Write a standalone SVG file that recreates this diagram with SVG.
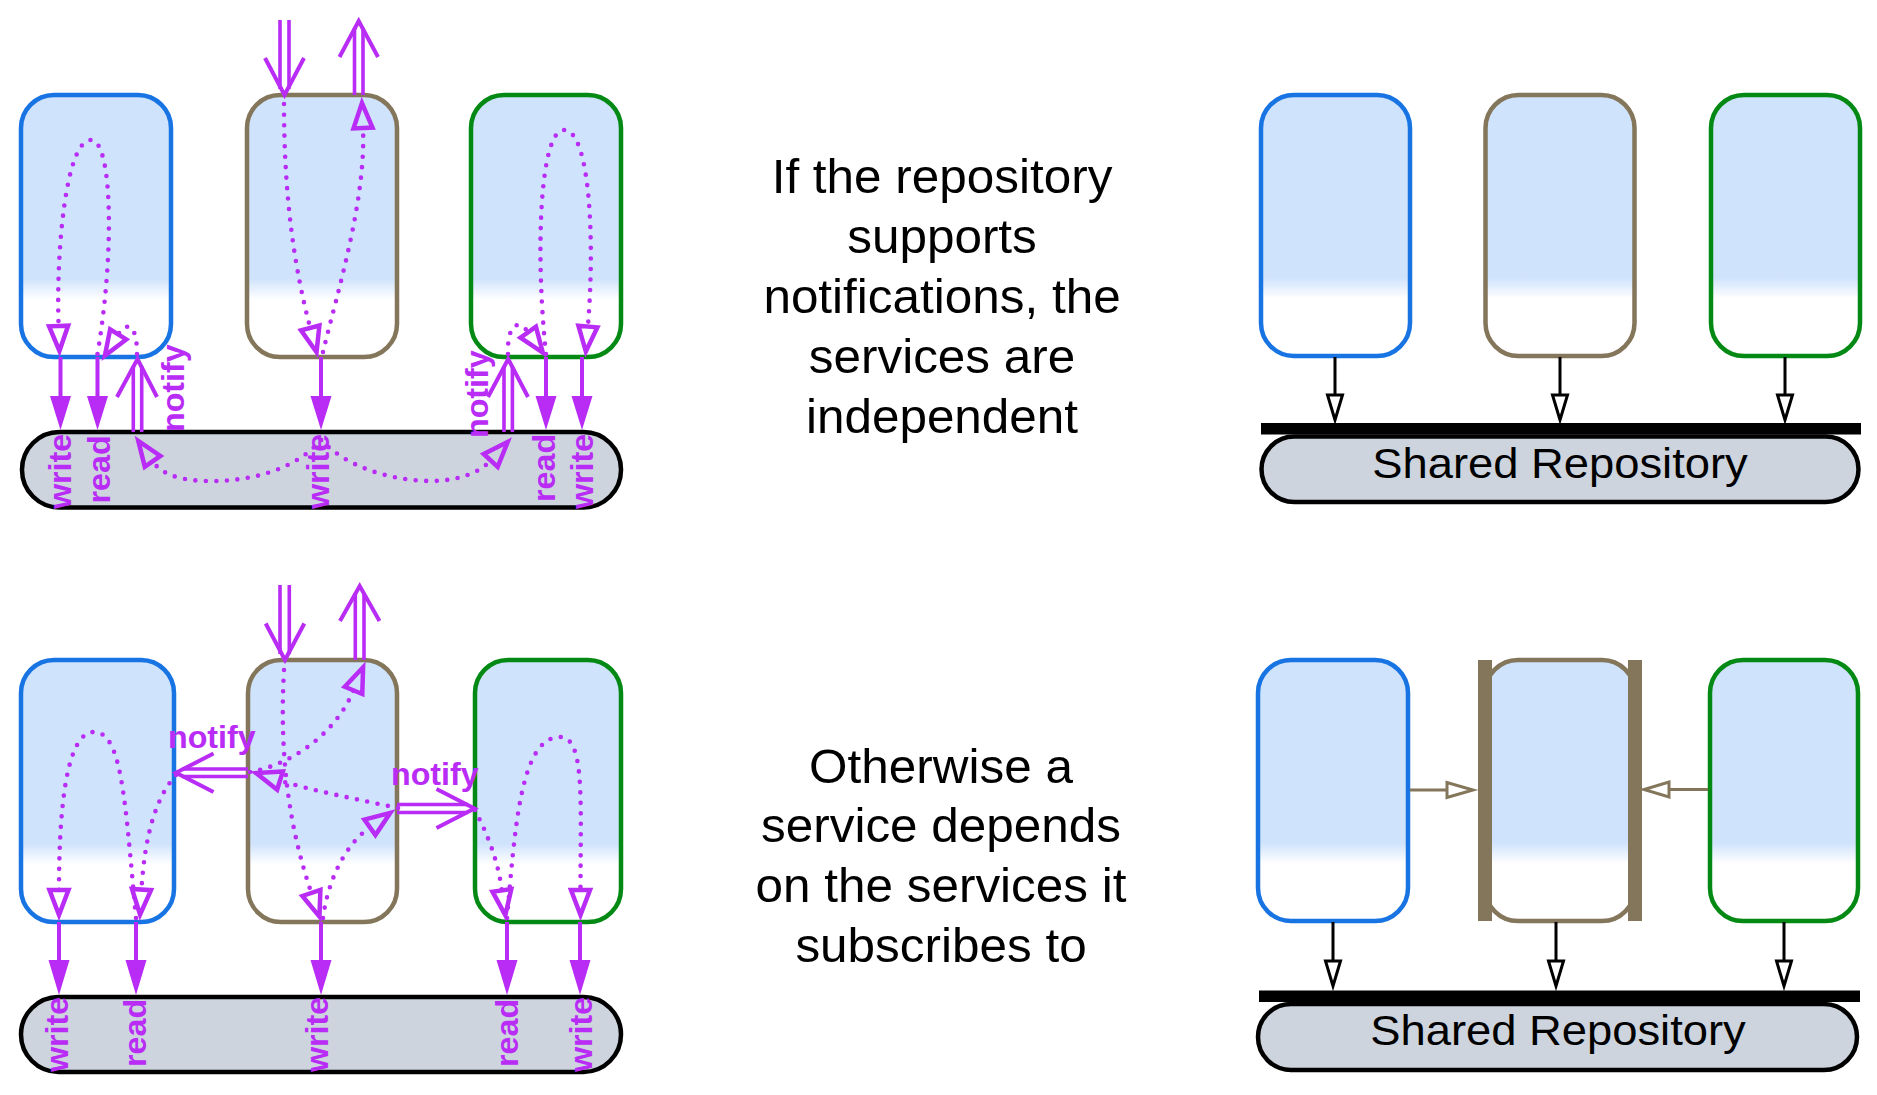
<svg xmlns="http://www.w3.org/2000/svg" width="1877" height="1095" viewBox="0 0 1877 1095">
<style>
.box{fill:url(#g);stroke-width:4.5}
.blue{stroke:#1874e3}.brown{stroke:#84765a}.green{stroke:#048a14}
.repo{fill:#cdd4de;stroke:#000;stroke-width:4.5}
.dot{fill:none;stroke:#b82cf5;stroke-width:4.6;stroke-dasharray:0 10.5;stroke-linecap:round;marker-end:url(#ot)}
.pl{fill:none;stroke:#b82cf5;stroke-width:4}
.dl{fill:none;stroke:#b82cf5;stroke-width:3.6}
.v{fill:none;stroke:#b82cf5;stroke-width:4;stroke-linejoin:miter}
.pf{fill:#b82cf5}
.lbl{font-family:"Liberation Sans",Arial,sans-serif;font-weight:bold;font-size:31px;fill:#b82cf5}
.main{font-family:"Liberation Sans",Arial,sans-serif;font-size:48px;fill:#000;text-anchor:middle}
.rtxt{font-family:"Liberation Sans",Arial,sans-serif;font-size:42px;fill:#000;text-anchor:middle}
.bl{stroke:#000;stroke-width:3;fill:none}
.bt{fill:#fff;stroke:#000;stroke-width:3}
.brl{stroke:#84765a;stroke-width:3;fill:none}
.brt{fill:#fff;stroke:#84765a;stroke-width:3}
</style>
<defs>
<linearGradient id="g" x1="0" y1="0" x2="0" y2="1">
<stop offset="0" stop-color="#cfe3fc"/><stop offset="0.70" stop-color="#cfe3fc"/><stop offset="0.78" stop-color="#ffffff"/><stop offset="1" stop-color="#ffffff"/>
</linearGradient>
<marker id="ot" markerUnits="userSpaceOnUse" orient="auto" overflow="visible" viewBox="-5 -15 45 30" markerWidth="45" markerHeight="30" refX="0" refY="0">
<path d="M0,-9.5 L25,0 L0,9.5 Z" fill="none" stroke="#b82cf5" stroke-width="4.5" stroke-linejoin="miter"/>
</marker>
</defs>

<!-- top-left panel nodes -->
<g id="tl-blue"><rect class="box blue" x="21" y="95" width="150" height="262" rx="33"/></g>
<g id="tl-brown"><rect class="box brown" x="247" y="95" width="150" height="262" rx="33"/></g>
<g id="tl-green"><rect class="box green" x="471" y="95" width="150" height="262" rx="33"/></g>
<g id="tl-repo"><rect class="repo" x="22" y="432" width="599" height="75.5" rx="37.5"/></g>

<!-- bottom-left panel nodes -->
<g id="bl-blue"><rect class="box blue" x="21" y="660" width="153" height="262" rx="33"/></g>
<g id="bl-brown"><rect class="box brown" x="248" y="660" width="149" height="262" rx="33"/></g>
<g id="bl-green"><rect class="box green" x="475" y="660" width="146" height="262" rx="33"/></g>
<g id="bl-repo"><rect class="repo" x="21" y="997" width="600" height="75" rx="37.5"/></g>

<!-- middle texts -->
<g id="txt-top" transform="translate(942,0) scale(1.03,1)">
<text class="main" x="0" y="193">If the repository</text>
<text class="main" x="0" y="253">supports</text>
<text class="main" x="0" y="313">notifications, the</text>
<text class="main" x="0" y="373">services are</text>
<text class="main" x="0" y="433">independent</text>
</g>
<g id="txt-bottom" transform="translate(941,0) scale(1.03,1)">
<text class="main" x="0" y="782.6">Otherwise a</text>
<text class="main" x="0" y="842.5">service depends</text>
<text class="main" x="0" y="902.3">on the services it</text>
<text class="main" x="0" y="962.2">subscribes to</text>
</g>

<!-- top-right panel nodes -->
<g id="tr-blue"><rect class="box blue" x="1261" y="95" width="149" height="261" rx="33"/></g>
<g id="tr-brown"><rect class="box brown" x="1485.5" y="95" width="149" height="261" rx="33"/></g>
<g id="tr-green"><rect class="box green" x="1711" y="95" width="149" height="261" rx="33"/></g>
<g id="tr-repo">
<rect class="repo" x="1261.5" y="436.5" width="597" height="65.5" rx="32.75"/>
<rect x="1261" y="423" width="600" height="11.5" fill="#000"/>
<text class="rtxt" transform="translate(1560,477.5) scale(1.08,1)">Shared Repository</text>
</g>

<!-- bottom-right panel nodes -->
<g id="br-blue"><rect class="box blue" x="1258" y="660" width="150" height="261" rx="33"/></g>
<g id="br-brown">
<rect class="box brown" x="1485" y="660" width="150" height="261" rx="33"/>
<rect x="1478" y="660" width="14" height="261" fill="#84765a"/>
<rect x="1628" y="660" width="14" height="261" fill="#84765a"/>
</g>
<g id="br-green"><rect class="box green" x="1710" y="660" width="148" height="261" rx="33"/></g>
<g id="br-repo">
<rect class="repo" x="1258" y="1004" width="599" height="66" rx="33"/>
<rect x="1259" y="990.5" width="601" height="11.5" fill="#000"/>
<text class="rtxt" transform="translate(1558,1044.6) scale(1.08,1)">Shared Repository</text>
</g>

<g id="connectors">
<!-- top-left solid arrows to repo -->
<path class="pl" d="M60.5,357V398M97.5,357V398M321,357V398M546,357V398M582,357V398"/>
<path class="pf" d="M50,396H71L60.5,430ZM87,396H108L97.5,430ZM310.5,396H331.5L321,430ZM535.5,396H556.5L546,430ZM571.5,396H592.5L582,430Z"/>
<!-- top-left notify double arrows (up) -->
<path class="dl" d="M133.3,432V366M141.7,432V366M504,432V366M512.4,432V366"/>
<path class="v" d="M117,397L137.5,359L157,397M488,397L508.2,359L528,397"/>
<!-- top-left input / output -->
<path class="dl" d="M280,20V89M289,20V89M354.5,95V28M363,95V28"/>
<path class="v" d="M265,58L284.5,95L304,58M339.5,57L358.7,21L378,57"/>
<!-- top-left dotted flows -->
<path class="dot" d="M97.5,354C115,250 112,140 91,140C66,140 56,250 58.6,326"/>
<path class="dot" d="M137,354C137,322 126,322 118.2,334.4"/>
<path class="dot" d="M284,104C284,200 295,270 310.2,327.9"/>
<path class="dot" d="M323,352C338,290 366,200 363,128"/>
<path class="dot" d="M321,440C295,470 250,482 205,481C175,480 160,472 152.6,461.4"/>
<path class="dot" d="M321,440C345,465 385,480 430,481C460,481 480,472 490.7,460.4"/>
<path class="dot" d="M546,354C535,250 540,130 564,130C590,130 595,240 587.9,326.6"/>
<path class="dot" d="M508,354C507,325 518,318 528.2,332.2"/>
<!-- top-left labels -->
<text class="lbl" transform="translate(71,509) rotate(-90) scale(1.04,1)">write</text>
<text class="lbl" transform="translate(110,503.5) rotate(-90) scale(1.04,1)">read</text>
<text class="lbl" transform="translate(183.5,432) rotate(-90) scale(1.04,1)">notify</text>
<text class="lbl" transform="translate(328.5,509) rotate(-90) scale(1.04,1)">write</text>
<text class="lbl" transform="translate(487.6,438) rotate(-90) scale(1.04,1)">notify</text>
<text class="lbl" transform="translate(555,502) rotate(-90) scale(1.04,1)">read</text>
<text class="lbl" transform="translate(593,509) rotate(-90) scale(1.04,1)">write</text>

<!-- bottom-left solid arrows to repo -->
<path class="pl" d="M59,922V961M136,922V961M321,922V961M507,922V961M580,922V961"/>
<path class="pf" d="M48.5,960H69.5L59,995ZM125.5,960H146.5L136,995ZM310.5,960H331.5L321,995ZM496.5,960H517.5L507,995ZM569.5,960H590.5L580,995Z"/>
<!-- bottom-left input / output -->
<path class="dl" d="M280,585V654M289.3,585V654M355.3,660V593M364,660V593"/>
<path class="v" d="M265.7,623.5L285,660L304.3,623.5M340,621L359.7,586L379.5,621"/>
<!-- bottom-left notify double arrows (horizontal) -->
<path class="dl" d="M248,769H182M248,776.5H182M397,804.5H468M397,812.5H468"/>
<path class="v" d="M213.5,753.5L176,772.8L213.5,792M436.5,789L474.5,808.5L436.5,828"/>
<!-- bottom-left dotted flows -->
<path class="dot" d="M284,670C279,760 290,830 311.4,892.9"/>
<path class="dot" d="M250,772C290,765 335,735 353.5,690.4"/>
<path class="dot" d="M398,808C360,800 310,790 280,780.6"/>
<path class="dot" d="M323,918C328,880 345,845 369.9,827.3"/>
<path class="dot" d="M136,918C125,800 122,732 94,732C70,732 59,790 59,890"/>
<path class="dot" d="M176,775C158,795 145,830 141.5,889.6"/>
<path class="dot" d="M507,918C515,830 520,737 560,737C585,737 580.5,800 580.5,890"/>
<path class="dot" d="M475,810C485,830 497,855 501.9,890.4"/>
<!-- bottom-left labels -->
<text class="lbl" transform="translate(68,1072) rotate(-90) scale(1.04,1)">write</text>
<text class="lbl" transform="translate(146,1067) rotate(-90) scale(1.04,1)">read</text>
<text class="lbl" transform="translate(327.5,1072) rotate(-90) scale(1.04,1)">write</text>
<text class="lbl" transform="translate(518,1067) rotate(-90) scale(1.04,1)">read</text>
<text class="lbl" transform="translate(591.5,1072) rotate(-90) scale(1.04,1)">write</text>
<text class="lbl" transform="translate(168,748) scale(1.04,1)">notify</text>
<text class="lbl" transform="translate(391,785) scale(1.04,1)">notify</text>

<!-- top-right arrows -->
<path class="bl" d="M1335,357V395M1560,357V395M1785,357V395"/>
<path class="bt" d="M1327.5,395H1342.5L1335,420ZM1552.5,395H1567.5L1560,420ZM1777.5,395H1792.5L1785,420Z"/>
<!-- bottom-right arrows -->
<path class="bl" d="M1333,922V961M1556,922V961M1784,922V961"/>
<path class="bt" d="M1325.5,961H1340.5L1333,986ZM1548.5,961H1563.5L1556,986ZM1776.5,961H1791.5L1784,986Z"/>
<path class="brl" d="M1410,790H1447M1708,789.5H1669"/>
<path class="brt" d="M1447,782.5V797.5L1473,790ZM1669,782V797L1644,789.5Z"/>
</g>
</svg>
